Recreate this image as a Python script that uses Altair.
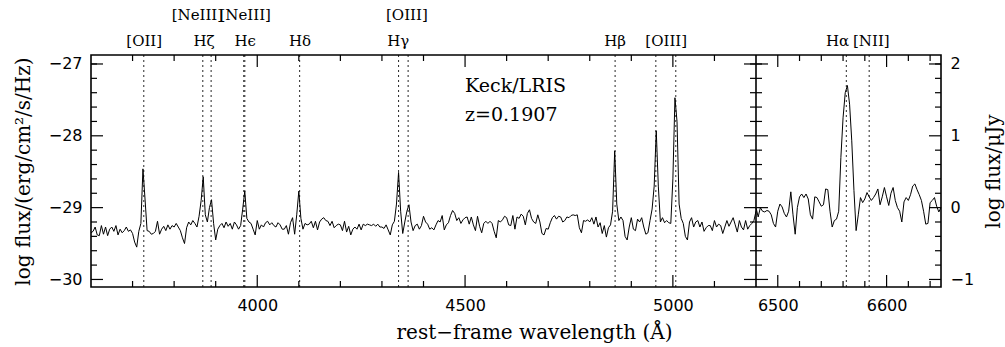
import altair as alt
import numpy as np
import pandas as pd

# ---------------- data ----------------
left_start, left_step = 3600, 5
left_flux = [
    -29.35, -29.33, -29.27, -29.38, -29.39, -29.25, -29.37, -29.27, -29.39, -29.30,
    -29.27, -29.33, -29.25, -29.38, -29.30, -29.35, -29.32, -29.27, -29.33, -29.31,
    -29.36, -29.48, -29.55, -29.33, -29.22, -28.46, -28.88, -29.32, -29.33, -29.37,
    -29.36, -29.33, -29.19, -29.37, -29.30, -29.26, -29.32, -29.24, -29.30, -29.25,
    -29.27, -29.22, -29.27, -29.32, -29.42, -29.50, -29.28, -29.20, -29.24, -29.18,
    -29.22, -29.27, -29.12, -28.90, -28.57, -29.10, -29.20, -29.00, -28.89, -29.22,
    -29.45, -29.30, -29.25, -29.22, -29.28, -29.20, -29.26, -29.22, -29.30, -29.20,
    -29.24, -29.30, -29.25, -29.02, -28.77, -29.15, -29.20, -29.22, -29.30, -29.38,
    -29.18, -29.30, -29.24, -29.27, -29.21, -29.19, -29.24, -29.21, -29.25, -29.27,
    -29.21, -29.24, -29.30, -29.30, -29.25, -29.37, -29.21, -29.14, -29.37, -29.10,
    -28.77, -29.15, -29.30, -29.22, -29.24, -29.23, -29.19, -29.28, -29.19, -29.31,
    -29.20, -29.16, -29.14, -29.18, -29.19, -29.25, -29.19, -29.28, -29.25, -29.23,
    -29.24, -29.32, -29.19, -29.34, -29.26, -29.38, -29.30, -29.27, -29.30, -29.23,
    -29.31, -29.23, -29.25, -29.23, -29.24, -29.25, -29.23, -29.26, -29.23, -29.27,
    -29.27, -29.29, -29.24, -29.31, -29.38, -29.24, -29.19, -28.95, -28.51, -29.05,
    -29.36, -29.20, -29.05, -28.96, -29.20, -29.32, -29.25, -29.23, -29.30, -29.25,
    -29.12, -29.20, -29.23, -29.30, -29.28, -29.31, -29.24, -29.18, -29.20, -29.11,
    -29.31, -29.24, -29.21, -29.11, -29.04, -29.08, -29.18, -29.14, -29.22, -29.17,
    -29.14, -29.13, -29.23, -29.13, -29.24, -29.32, -29.12, -29.26, -29.35, -29.22,
    -29.19, -29.22, -29.19, -29.22, -29.33, -29.42, -29.18, -29.20, -29.17, -29.12,
    -29.14, -29.24, -29.25, -29.11, -29.30, -29.13, -29.15, -29.09, -29.12, -29.24,
    -29.08, -29.03, -29.15, -29.20, -29.22, -29.10, -29.20, -29.36, -29.38, -29.29,
    -29.30, -29.21, -29.14, -29.11, -29.16, -29.12, -29.13, -29.20, -29.18, -29.13,
    -29.14, -29.11, -29.10, -29.11, -29.10, -29.28, -29.35, -29.18, -29.19, -29.17,
    -29.20, -29.14, -29.23, -29.13, -29.27, -29.21, -29.36, -29.25, -29.41, -29.28,
    -29.24, -29.05, -28.21, -28.95, -29.18, -29.13, -29.18, -29.40, -29.45, -29.27,
    -29.14, -29.30, -29.32, -29.16, -29.20, -29.14, -29.27, -29.37, -29.35, -29.18,
    -29.02, -28.70, -27.93, -28.70, -29.20, -29.14, -29.21, -29.18, -29.21, -29.22,
    -28.60, -27.47, -27.80, -28.95, -29.15, -29.22, -29.40, -29.45, -29.20, -29.14,
    -29.27, -29.20, -29.18, -29.27, -29.20, -29.33, -29.28, -29.25, -29.25, -29.32,
    -29.18, -29.27, -29.23, -29.25, -29.36, -29.27, -29.18, -29.26, -29.20, -29.14,
    -29.24, -29.34, -29.18, -29.27, -29.31, -29.18, -29.30, -29.25, -29.22, -29.18,
    -29.05,
]
right_start, right_step = 6480, 2
right_flux = [
    -29.00, -29.13, -29.00, -29.05, -29.06, -29.04, -29.05, -29.10, -29.22, -29.27,
    -29.05, -28.95, -28.99, -29.08, -29.13, -29.05, -28.78, -29.10, -29.37, -29.00,
    -28.85, -28.81, -28.86, -28.81, -28.88, -29.10, -29.16, -28.85, -28.86, -28.92,
    -28.98, -28.96, -28.74, -28.75, -29.05, -29.27, -29.18, -29.16, -29.05, -28.30,
    -27.75, -27.40, -27.30, -27.56, -28.07, -28.76, -29.32, -29.10, -28.86, -28.93,
    -28.88, -28.79, -28.85, -28.90, -28.86, -28.81, -28.74, -28.96, -28.85, -28.72,
    -28.85, -28.97, -28.80, -28.72, -28.90, -29.00, -29.05, -29.20, -28.92, -28.86,
    -28.90, -28.82, -28.70, -28.67, -28.75, -28.82, -28.90, -29.05, -29.23, -29.22,
    -28.93, -28.90, -28.86, -28.98, -29.06, -29.00,
]

line_waves = [3727, 3869, 3889, 3967.5, 3970.1, 4102, 4340, 4363, 4861, 4959, 5007, 6563, 6584]

label_text = ["[NeIII]", "[NeIII]", "[OIII]", "[OII]", "Hζ", "Hϵ", "Hδ", "Hγ",
              "Hβ", "[OIII]", "Hα", "[NII]"]
label_wave = [3856, 3971, 4360, 3728, 3872, 3971, 4103, 4339, 4861, 4984, 6555, 6586]
label_row = [1, 1, 1, 2, 2, 2, 2, 2, 2, 2, 2, 2]

annot_text = ["Keck/LRIS", "z=0.1907"]
annot_wave = [4500, 4500]
annot_flux = [-27.39, -27.80]

x_major = [4000, 4500, 5000, 6500, 6600]
x_minor = [3700, 3800, 3900, 4100, 4200, 4300, 4400, 4600, 4700, 4800, 4900, 5100,
           6520, 6540, 6560, 6580, 6620, 6640]
y_major = [-30, -29, -28, -27]
y_minor = [-29.8, -29.6, -29.4, -29.2, -28.8, -28.6, -28.4, -28.2,
           -27.8, -27.6, -27.4, -27.2, -27.0]
ujy_labels = [-1, 0, 1, 2]

x_domain = [3600, 5200, 6480, 6650]
y_domain = [-30.105, -26.875]
ujy_offset = 29

# ---------------- frames ----------------
left_df = pd.DataFrame({"wave": np.arange(left_start, 5200 + 1, left_step), "flux": left_flux})
right_df = pd.DataFrame({"wave": np.arange(right_start, 6650 + 1, right_step), "flux": right_flux})
lines_df = pd.DataFrame({"wave": line_waves})
lab_df = pd.DataFrame({"text": label_text, "wave": label_wave, "row": label_row})
ann_df = pd.DataFrame({"text": annot_text, "wave": annot_wave, "flux": annot_flux})

W, H, DIV = 850, 232, 665
MAJ, MIN = 12, 6
SERIF = "DejaVu Serif"
SANS = "DejaVu Sans"

xs = alt.Scale(domain=x_domain, range=[0, DIV, DIV, W], zero=False, nice=False)
ys = alt.Scale(domain=y_domain, zero=False, nice=False)

x_axis = alt.Axis(
    values=x_major, format="d", orient="bottom", labelPadding=10,
    title="rest−frame wavelength (Å)", titleX=443, titleY=51,
    titleBaseline="alphabetic", titleAlign="center")
y_axis = alt.Axis(
    values=y_major, format="d", orient="left", labelPadding=9,
    title="log flux/(erg/cm²/s/Hz)", titleX=-62, titleY=116,
    titleBaseline="alphabetic", titleAlign="center", titleAngle=-90)


def X(field="wave"):
    return alt.X(f"{field}:Q", scale=xs, axis=x_axis)


def Y(field="flux"):
    return alt.Y(f"{field}:Q", scale=ys, axis=y_axis)


spec_left = alt.Chart(left_df).mark_line(color="black", strokeWidth=1.0).encode(x=X(), y=Y())
spec_right = alt.Chart(right_df).mark_line(color="black", strokeWidth=1.0).encode(x=X(), y=Y())

dotted = alt.Chart(lines_df).mark_rule(color="black", strokeWidth=1, strokeDash=[2, 3], opacity=0.85).encode(
    x=X(), y=alt.value(0), y2=alt.value(H),
)

divider = alt.Chart(pd.DataFrame({"wave": [5200]})).mark_rule(color="black", strokeWidth=1.6).encode(
    x=X(), y=alt.value(0), y2=alt.value(H),
)


def xtick_layers(vals, length):
    d = pd.DataFrame({"wave": vals})
    base = alt.Chart(d).mark_rule(color="black", strokeWidth=1.2)
    bottom = base.encode(x=X(), y=alt.value(H), y2=alt.value(H - length))
    top = base.encode(x=X(), y=alt.value(0), y2=alt.value(length))
    return [bottom, top]


def ytick_layers(vals, length):
    d = pd.DataFrame({"flux": vals})
    base = alt.Chart(d).mark_rule(color="black", strokeWidth=1.2)
    return [
        base.encode(y=Y(), x=alt.value(0), x2=alt.value(length)),
        base.encode(y=Y(), x=alt.value(DIV - length), x2=alt.value(DIV + length)),
        base.encode(y=Y(), x=alt.value(W - length), x2=alt.value(W)),
    ]


tick_layers = (xtick_layers(x_major, MAJ) + xtick_layers(x_minor, MIN)
               + ytick_layers(y_major, MAJ) + ytick_layers(y_minor, MIN))

labels_row1 = alt.Chart(lab_df[lab_df.row == 1]).mark_text(
    font=SERIF, fontSize=15, baseline="middle", align="center", color="black").encode(
    x=X(), y=alt.value(-40), text="text:N")
labels_row2 = alt.Chart(lab_df[lab_df.row == 2]).mark_text(
    font=SERIF, fontSize=15, baseline="middle", align="center", color="black").encode(
    x=X(), y=alt.value(-14), text="text:N")

annot = alt.Chart(ann_df).mark_text(
    font=SERIF, fontSize=19, baseline="alphabetic", align="left", color="black").encode(
    x=X(), y=Y(), text="text:N")

main = alt.layer(spec_left, spec_right, dotted, divider, *tick_layers,
                 labels_row1, labels_row2, annot)

ujy_df = pd.DataFrame({"u": ujy_labels})
ujy_axis = alt.Chart(ujy_df).mark_point(opacity=0).encode(
    y=alt.Y("u:Q", scale=alt.Scale(domain=[y_domain[0] + ujy_offset, y_domain[1] + ujy_offset],
                                   zero=False, nice=False),
            axis=alt.Axis(orient="right", values=ujy_labels, format="d", labelPadding=9,
                          title="log flux/μJy", titleAngle=-90, titleX=58, titleY=116,
                          titleBaseline="alphabetic", titleAlign="center")),
)

chart = alt.layer(main, ujy_axis).resolve_scale(y="independent").properties(
    width=W, height=H,
    background="white",
    autosize=alt.AutoSizeParams(type="none"),
    padding={"left": 91, "top": 55, "right": 64, "bottom": 60},
).configure_view(stroke="black", strokeWidth=1.6).configure_axis(
    grid=False, domain=False, ticks=False,
    labelFont=SANS, labelFontSize=16, labelColor="black",
    titleFont=SERIF, titleFontSize=20, titleFontWeight="normal", titleColor="black",
)

chart.save("out.html", embed_options={"renderer": "svg", "actions": False})
